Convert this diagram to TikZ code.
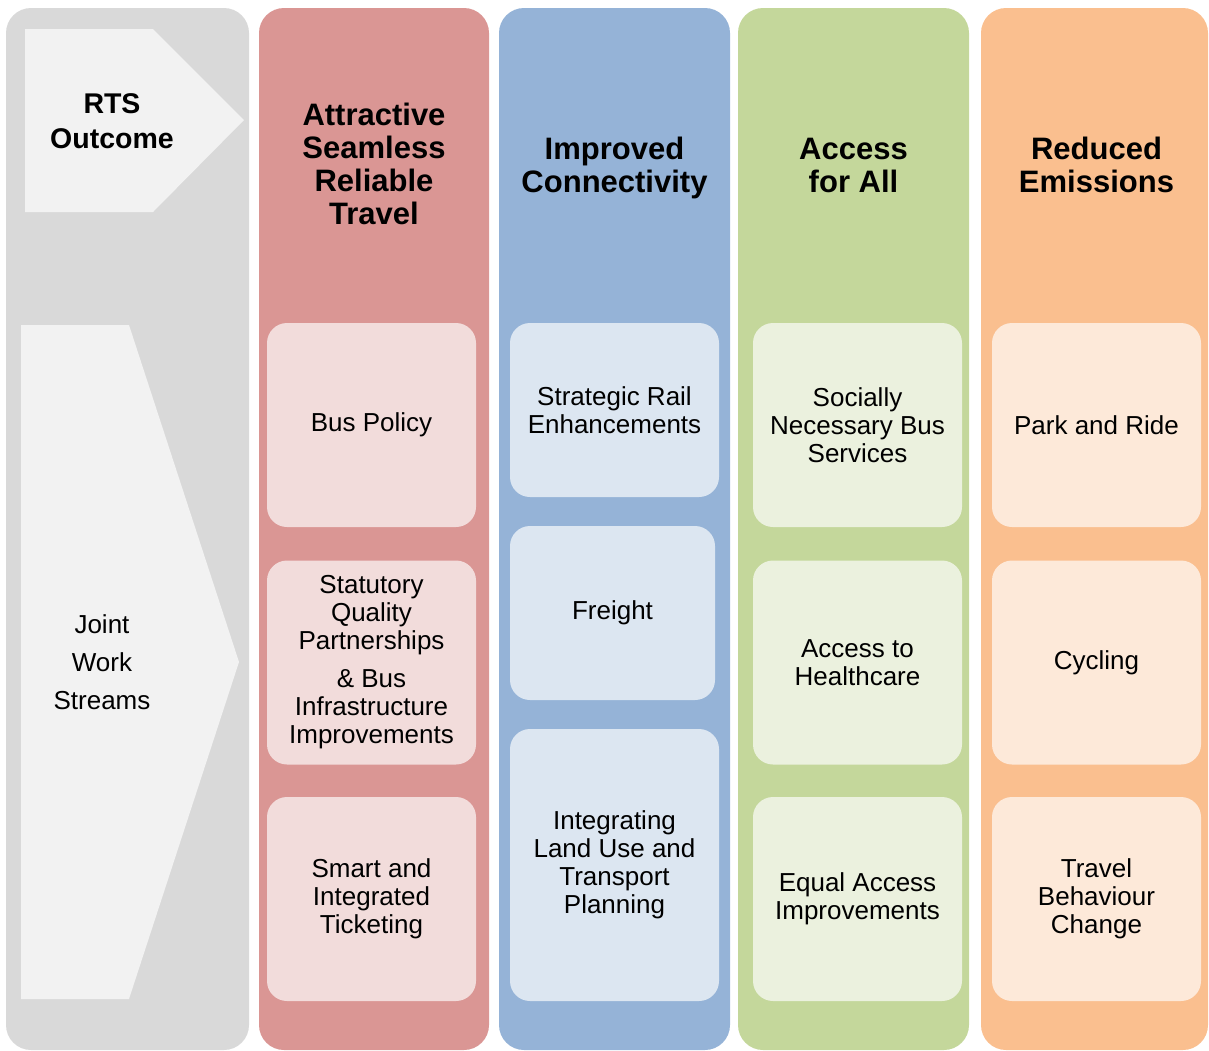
\documentclass[tikz,border=0pt]{standalone}
\usepackage{fontspec}
\setmainfont{Liberation Sans}

\definecolor{colgrey}{HTML}{D9D9D9}
\definecolor{arrgrey}{HTML}{F2F2F2}
\definecolor{colred}{HTML}{DA9694}
\definecolor{boxred}{HTML}{F2DCDB}
\definecolor{colblue}{HTML}{95B3D7}
\definecolor{boxblue}{HTML}{DCE6F1}
\definecolor{colgreen}{HTML}{C4D79B}
\definecolor{boxgreen}{HTML}{EBF1DE}
\definecolor{colorange}{HTML}{FABF8F}
\definecolor{boxorange}{HTML}{FDE9D9}

\begin{document}
\begin{tikzpicture}[x=1pt,y=-1pt,
        column/.style={rounded corners=25pt,inner sep=0pt,minimum width=231pt,minimum height=1042pt},
        stream/.style={rounded corners=20pt,inner sep=0pt,minimum width=209pt,minimum height=204pt,
                       align=center,font=\fontsize{26}{28}\selectfont},
        outcome/.style={align=center,font=\fontsize{31}{33}\selectfont\bfseries}]
        \useasboundingbox (0,0) rectangle (1209,1050);
        % columns
        \node[column,fill=colgrey,minimum width=243pt] (c0) at (127.5,529) {};
        \node[column,fill=colred,minimum width=230pt] (c1) at (374,529) {};
        \node[column,fill=colblue] (c2) at (614.5,529) {};
        \node[column,fill=colgreen] (c3) at (853.5,529) {};
        \node[column,fill=colorange,minimum width=227pt] (c4) at (1094.5,529) {};
        % arrows
        \coordinate (a1) at (25,29);
        \coordinate (a2) at (153,29);
        \coordinate (a3) at (244,120);
        \coordinate (a4) at (153,212);
        \coordinate (a5) at (25,212);
        \fill[arrgrey] (a1) -- (a2) -- (a3) -- (a4) -- (a5) -- cycle;
        \coordinate (b1) at (21,325);
        \coordinate (b2) at (129,325);
        \coordinate (b3) at (239,662);
        \coordinate (b4) at (129,999);
        \coordinate (b5) at (21,999);
        \fill[arrgrey] (b1) -- (b2) -- (b3) -- (b4) -- (b5) -- cycle;
        \node[align=center,font=\fontsize{28.5}{35}\selectfont\bfseries] (rts) at (112,121) {RTS\\Outcome};
        \node[align=center,font=\fontsize{26}{38}\selectfont] (jws) at (102,662) {Joint\\Work\\Streams};
        % outcomes
        \node[outcome] (o1) at (374,164) {Attractive\\Seamless\\Reliable\\Travel};
        \node[outcome] (o2) at (614.5,168) {Improved\\Connectivity};
        \node[outcome] (o3) at (853.5,165) {Access\\for All};
        \node[outcome] (o4) at (1096.5,165) {Reduced\\Emissions};
        % work streams
        \node[stream,fill=boxred] (s11) at (371.5,425) {Bus Policy};
        \node[stream,fill=boxred] (s12) at (371.5,662.5) {Statutory\\Quality\\Partnerships\\[10pt]\& Bus\\Infrastructure\\Improvements};
        \node[stream,fill=boxred] (s13) at (371.5,899) {Smart and\\Integrated\\Ticketing};
        \node[stream,fill=boxblue,minimum height=174pt] (s21) at (614.5,410) {Strategic Rail\\Enhancements};
        \node[stream,fill=boxblue,minimum height=174pt,minimum width=205pt] (s22) at (612.5,613) {Freight};
        \node[stream,fill=boxblue,minimum height=272pt] (s23) at (614.5,865) {Integrating\\Land Use and\\Transport\\Planning};
        \node[stream,fill=boxgreen] (s31) at (857.5,425) {Socially\\Necessary Bus\\Services};
        \node[stream,fill=boxgreen] (s32) at (857.5,662.5) {Access to\\Healthcare};
        \node[stream,fill=boxgreen] (s33) at (857.5,899) {Equal Access\\Improvements};
        \node[stream,fill=boxorange] (s41) at (1096.5,425) {Park and Ride};
        \node[stream,fill=boxorange] (s42) at (1096.5,662.5) {Cycling};
        \node[stream,fill=boxorange] (s43) at (1096.5,899) {Travel\\Behaviour\\Change};
\end{tikzpicture}
\end{document}
